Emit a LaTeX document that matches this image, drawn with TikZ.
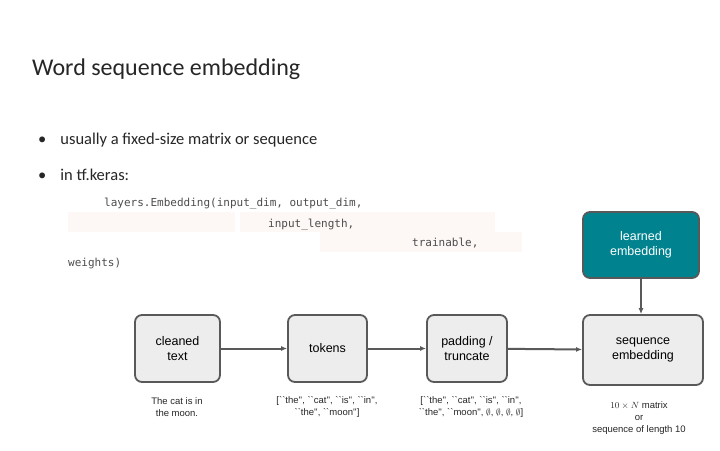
\documentclass[tikz,border=0pt]{standalone}
\usepackage{fontspec}
\setmainfont{Carlito}
\newfontfamily\boxf{Liberation Sans}
\newfontfamily\codef{DejaVu Sans Mono}
\usetikzlibrary{arrows.meta}
\definecolor{boxfill}{HTML}{EDEDED}
\definecolor{boxline}{HTML}{595959}
\definecolor{tealc}{HTML}{00838F}
\definecolor{codebg}{HTML}{FDF7F6}
\newcommand{\nullset}{\ensuremath{\emptyset}}
\begin{document}
\begin{tikzpicture}[x=1pt,y=-1pt,
  box/.style={draw=boxline,line width=1.8pt,fill=boxfill,rounded corners=7pt,font=\boxf\fontsize{12.5}{15}\selectfont,align=center,inner sep=0pt},
  captxt/.style={font=\boxf\fontsize{9.5}{12}\selectfont,align=center,text=black!85},
  arr/.style={draw=boxline,line width=2pt,-{Latex[length=6pt,width=5pt]}},
  code/.style={font=\codef\fontsize{11}{13}\selectfont,text=black!70,anchor=base west,inner sep=0pt}]
\useasboundingbox (0,0) rectangle (720,450);
\node[anchor=base west,inner sep=0pt,font=\fontsize{24}{28}\selectfont,text=black!85] (title) at (32,75) {Word sequence embedding};
\node[anchor=base west,inner sep=0pt,font=\fontsize{16.5}{20}\selectfont,text=black!85] (b1) at (38,144) {\textbullet\hspace{14pt}usually a fixed-size matrix or sequence};
\node[anchor=base west,inner sep=0pt,font=\fontsize{16.5}{20}\selectfont,text=black!85] (b2) at (38,180) {\textbullet\hspace{14pt}in tf.keras:};
\fill[codebg] (68,212) rectangle (235,232);
\fill[codebg] (240,212) rectangle (495,232);
\fill[codebg] (320,232) rectangle (522,252);
\node[code] (c1) at (104,206) {layers.Embedding(input\_dim, output\_dim,};
\node[code] (c2) at (268,227) {input\_length,};
\node[code] (c3) at (412,246) {trainable,};
\node[code] (c4) at (68,266) {weights)};
\node[box,minimum width=85pt,minimum height=67pt] (ct) at (177.5,348.5) {cleaned\\text};
\node[box,minimum width=79pt,minimum height=67pt] (tk) at (327.5,348.5) {tokens};
\node[box,minimum width=80pt,minimum height=67pt] (pd) at (467,348.5) {padding /\\truncate};
\node[box,minimum width=120pt,minimum height=70pt] (se) at (643,350) {sequence\\embedding};
\node[box,fill=tealc,text=white,minimum width=116pt,minimum height=66pt] (le) at (641,245) {learned\\embedding};
\draw[arr] (ct) -- (tk);
\draw[arr] (tk) -- (pd);
\draw[arr] (pd) -- (se);
\draw[arr] (le.south) -- (le.south |- se.north);
\node[captxt] (k1) at (177,407) {The cat is in\\the moon.};
\node[captxt] (k2) at (327,407) {[``the'', ``cat'', ``is'', ``in'',\\``the'', ``moon'']};
\node[captxt] (k3) at (471,407) {[``the'', ``cat'', ``is'', ``in'',\\``the'', ``moon'', \nullset, \nullset, \nullset, \nullset]};
\node[captxt] (k4) at (639,418) {$10\times N$ matrix\\or\\sequence of length 10};
\end{tikzpicture}
\end{document}
